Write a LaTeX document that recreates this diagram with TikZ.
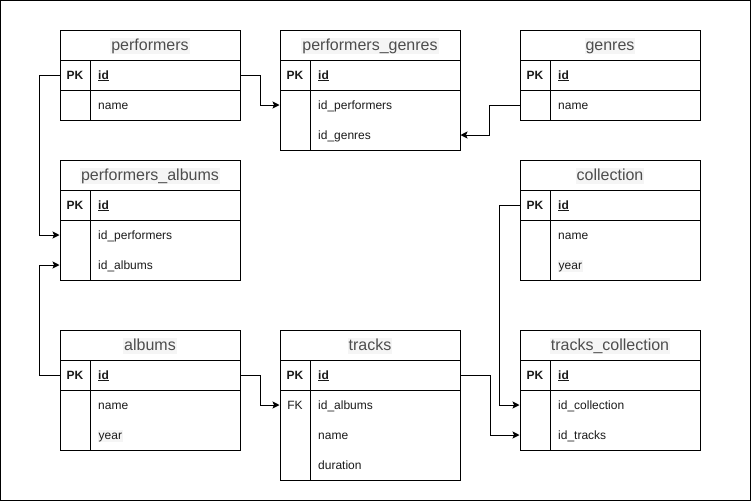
\documentclass[tikz,border=0pt]{standalone}
\usepackage{fontspec}
\setmainfont{Liberation Sans}
\usetikzlibrary{arrows.meta}
\definecolor{ttlgray}{HTML}{4D4D4D}
\definecolor{txtdark}{HTML}{1A1A1A}
\definecolor{hl}{HTML}{F5F5F5}
\tikzset{
  tbl/.style={draw, line width=1pt, minimum width=180pt, inner sep=0pt},
  ttl/.style={draw, line width=1pt, minimum width=180pt, minimum height=30pt, inner sep=0pt},
  ttltxt/.style={text=ttlgray, fill=hl, inner sep=1pt, yshift=-1pt, font=\fontsize{16}{19}\selectfont, text height=11.5pt, text depth=3.4pt},
  rowbox/.style={minimum width=180pt, minimum height=30pt, inner sep=0pt, line width=1pt},
  keytxt/.style={text=txtdark, inner sep=0pt, yshift=-1pt, font=\fontsize{12}{14}\selectfont\bfseries, text height=8.6pt, text depth=2.6pt},
  fldtxt/.style={anchor=west, text=txtdark, inner sep=0pt, yshift=-1pt, font=\fontsize{12}{14}\selectfont, text height=8.6pt, text depth=2.6pt},
  hlfld/.style={fldtxt, fill=hl, inner xsep=0.5pt},
  conn/.style={draw, line width=1pt, -{Stealth[length=7pt,width=7pt,inset=1.5pt]}},
}
\newcommand\erdtable[5]{% name, left, top, height, title
  \node[tbl, minimum height=#4pt] (#1) at ({#2+90},{#3+#4/2}) {};
  \node[ttl] (#1-head) at ({#2+90},{#3+15}) {};
  \node[ttltxt] (#1-name) at ({#2+90},{#3+15}) {#5};
  \draw[line width=1pt] ({#2+30},{#3+30}) -- ({#2+30},{#3+#4});
}
\newcommand\pkrow[3]{% name, left, y
  \node[rowbox, draw] (#1) at ({#2+90},{#3}) {};
  \node[keytxt] (#1-k) at ({#2+15},{#3}) {PK};
  \node[fldtxt] (#1-t) at ({#2+38},{#3}) {\bfseries\underline{id}};
}
\newcommand\plainrow[4]{% name, left, y, text
  \node[rowbox] (#1) at ({#2+90},{#3}) {};
  \node[fldtxt] (#1-t) at ({#2+38},{#3}) {#4};
}
\newcommand\hlrow[4]{% name, left, y, text (highlighted)
  \node[rowbox] (#1) at ({#2+90},{#3}) {};
  \node[hlfld] (#1-t) at ({#2+38},{#3}) {#4};
}
\begin{document}
\begin{tikzpicture}[x=1pt, y=-1pt]
\useasboundingbox (0,0) rectangle (751,501);
\draw[line width=1pt] (0.5,0.5) rectangle (750,500);

% performers
\erdtable{perf}{60}{30}{90}{performers}
\pkrow{perf-id}{60}{75}
\plainrow{perf-name}{60}{105}{name}

% performers_genres
\erdtable{pg}{280}{30}{120}{performers\_genres}
\pkrow{pg-id}{280}{75}
\plainrow{pg-perf}{280}{105}{id\_performers}
\plainrow{pg-gen}{280}{135}{id\_genres}

% genres
\erdtable{gen}{520}{30}{90}{genres}
\pkrow{gen-id}{520}{75}
\plainrow{gen-name}{520}{105}{name}

% performers_albums
\erdtable{pa}{60}{160}{120}{performers\_albums}
\pkrow{pa-id}{60}{205}
\plainrow{pa-perf}{60}{235}{id\_performers}
\plainrow{pa-alb}{60}{265}{id\_albums}

% collection
\erdtable{col}{520}{160}{120}{collection}
\pkrow{col-id}{520}{205}
\plainrow{col-name}{520}{235}{name}
\hlrow{col-year}{520}{265}{year}

% albums
\erdtable{alb}{60}{330}{120}{albums}
\pkrow{alb-id}{60}{375}
\plainrow{alb-name}{60}{405}{name}
\hlrow{alb-year}{60}{435}{year}

% tracks
\erdtable{tr}{280}{330}{150}{tracks}
\pkrow{tr-id}{280}{375}
\plainrow{tr-alb}{280}{405}{id\_albums}
\node[keytxt, font=\fontsize{12}{14}\selectfont] (tr-alb-k) at (295,405) {FK};
\plainrow{tr-name}{280}{435}{name}
\plainrow{tr-dur}{280}{465}{duration}

% tracks_collection
\erdtable{tc}{520}{330}{120}{tracks\_collection}
\pkrow{tc-id}{520}{375}
\plainrow{tc-col}{520}{405}{id\_collection}
\plainrow{tc-tr}{520}{435}{id\_tracks}

% connectors
\draw[conn] (perf-id.east) -- ++(20,0) |- (pg-perf.west);
\draw[conn] (gen-name.west) -- ++(-30,0) |- (pg-gen.east);
\draw[conn] (perf-id.west) -- ++(-20,0) |- (pa-perf.west);
\draw[conn] (alb-id.west) -- ++(-20,0) |- (pa-alb.west);
\draw[conn] (alb-id.east) -- ++(20,0) |- (tr-alb.west);
\draw[conn] (col-id.west) -- ++(-20,0) |- (tc-col.west);
\draw[conn] (tr-id.east) -- ++(30,0) |- (tc-tr.west);
\end{tikzpicture}
\end{document}
